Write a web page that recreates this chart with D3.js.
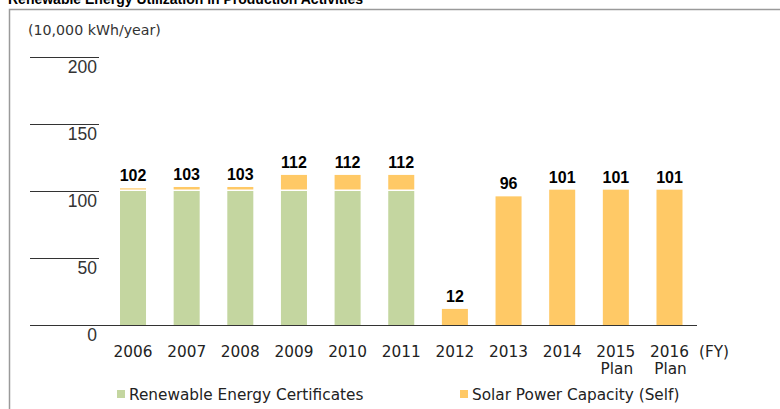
<!DOCTYPE html>
<html><head><meta charset="utf-8">
<script src="https://cdn.jsdelivr.net/npm/d3@7"></script>
<style>body{margin:0;background:#fff}svg{display:block}</style>
</head><body>
<svg id="c" width="780" height="409"></svg>
<script>
const categories = ["2006","2007","2008","2009","2010","2011","2012","2013","2014","2015","2016"];
const subLabels = ["","","","","","","","","","Plan","Plan"];
const certificates = [100,100,100,100,100,100,0,0,0,0,0];
const solar = [2,3,3,12,12,12,12,96,101,101,101];
const totals = [102,103,103,112,112,112,12,96,101,101,101];
const yTicks = [0,50,100,150,200];
const seriesNames = ["Renewable Energy Certificates","Solar Power Capacity (Self)"];
const colors = ["#c4d6a0","#ffc966"];

const svg = d3.select("#c");
// frame
svg.append("path").attr("d","M9.5,409 V9.5 H780").attr("fill","none").attr("stroke","#9a9a9a").attr("stroke-width",1.5);
// title (clipped at top, as in the reference)
svg.append("text").attr("x",8).attr("y",4).attr("font-family","Liberation Sans, Arial").attr("font-weight","bold")
  .attr("font-size",14).attr("fill","#000").text("Renewable Energy Utilization in Production Activities");
svg.append("text").attr("x",28).attr("y",35).attr("font-family","DejaVu Sans").attr("font-size",14.2)
  .attr("fill","#333").text("(10,000 kWh/year)");

const y = d3.scaleLinear().domain([0,200]).range([325,57]);
const x = d3.scaleBand().domain(categories).range([120,682.5]).paddingInner(0.515).paddingOuter(0);

// y ticks drawn as short lines with labels below
const ya = svg.append("g");
yTicks.forEach(t=>{
  ya.append("line").attr("x1",30).attr("x2",99).attr("y1",y(t)+0.5).attr("y2",y(t)+0.5).attr("stroke","#333").attr("stroke-width",1.2);
  ya.append("text").attr("x",97).attr("y",y(t)+16).attr("text-anchor","end").attr("font-family","Liberation Sans, Arial")
    .attr("font-size",17.5).attr("fill","#333").text(t);
});

const stack = categories.map((c,i)=>({c, a:certificates[i], b:solar[i]}));
const g = svg.append("g");
g.selectAll("rect.a").data(stack).join("rect").attr("class","a")
  .attr("x",d=>x(d.c)).attr("width",x.bandwidth())
  .attr("y",d=>y(d.a)).attr("height",d=>y(0)-y(d.a)).attr("fill",colors[0]);
g.selectAll("rect.b").data(stack).join("rect").attr("class","b")
  .attr("x",d=>x(d.c)).attr("width",x.bandwidth())
  .attr("y",d=>y(d.a+d.b)).attr("height",d=>Math.max(0.8,y(d.a)-y(d.a+d.b)-(d.a>0?1.5:0))).attr("fill",colors[1]);

g.selectAll("text.v").data(categories).join("text").attr("class","v")
  .attr("x",d=>x(d)+x.bandwidth()/2).attr("y",(d,i)=>y(totals[i])-7)
  .attr("text-anchor","middle").attr("font-family","Liberation Sans, Arial").attr("font-weight","bold")
  .attr("font-size",16).attr("fill","#000").text((d,i)=>totals[i]);

// x axis line
svg.append("line").attr("x1",30).attr("x2",697).attr("y1",325.5).attr("y2",325.5).attr("stroke","#333").attr("stroke-width",1.2);

const xa = svg.append("g").attr("font-family","DejaVu Sans").attr("font-size",15.3).attr("fill","#222");
xa.selectAll("text.yr").data(categories).join("text").attr("class","yr")
  .attr("x",d=>x(d)+x.bandwidth()/2).attr("y",357).attr("text-anchor","middle").text(d=>d);
xa.selectAll("text.sub").data(categories).join("text").attr("class","sub")
  .attr("x",d=>x(d)+x.bandwidth()/2+1).attr("y",374).attr("text-anchor","middle").text((d,i)=>subLabels[i]);
xa.append("text").attr("x",699).attr("y",357).text("(FY)");

// legend
const lg = svg.append("g").attr("font-family","DejaVu Sans").attr("font-size",15.3).attr("fill","#222");
const lx = [117,460];
seriesNames.forEach((n,i)=>{
  lg.append("rect").attr("x",lx[i]).attr("y",390).attr("width",8).attr("height",8).attr("fill",colors[i]);
  lg.append("text").attr("x",lx[i]+12).attr("y",400).text(n);
});
</script>
</body></html>
